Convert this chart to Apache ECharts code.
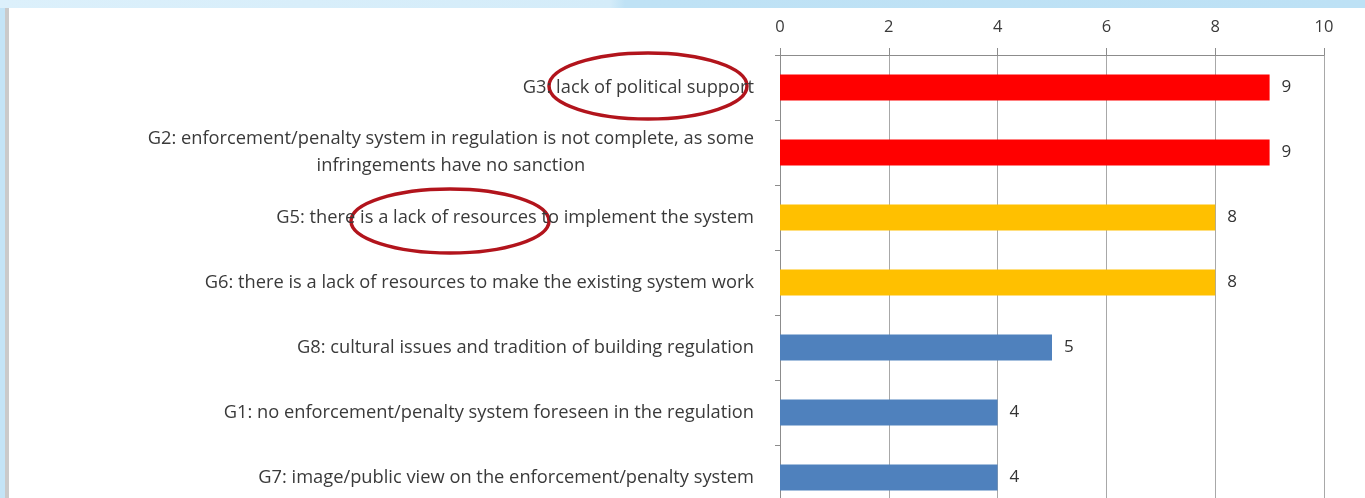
<!DOCTYPE html>
<html>
<head>
<meta charset="utf-8">
<script src="https://cdn.jsdelivr.net/npm/echarts@6/dist/echarts.min.js"></script>
<style>
  html, body { margin: 0; padding: 0; }
  body {
    width: 1365px; height: 498px; overflow: hidden; position: relative;
    background: #c4e4f6;
  }
  /* slide frame behind the chart */
  .band-top { position: absolute; left: 0; top: 0; width: 1365px; height: 8px;
    background: linear-gradient(to right, #dcf0fb 0, #d4ecf9 610px, #bfe2f5 625px, #bde1f5 100%); }
  .panel { position: absolute; left: 5px; top: 8px; right: 0; bottom: 0;
    background: #fff; border-left: 4px solid #cacaca; }
  #chart { position: absolute; left: 0; top: 0; width: 1365px; height: 498px; }
</style>
</head>
<body>
<div class="band-top"></div>
<div class="panel"></div>
<div id="chart"></div>
<script>
  // categories, top to bottom
  const categories = [
    'G3: lack of political support',
    'G2: enforcement/penalty system in regulation is not complete, as some\ninfringements have no sanction',
    'G5: there is a lack of resources to implement the system',
    'G6: there is a lack of resources to make the existing system work',
    'G8: cultural issues and tradition of building regulation',
    'G1: no enforcement/penalty system foreseen in the regulation',
    'G7: image/public view on the enforcement/penalty system'
  ];
  const counts = [9, 9, 8, 8, 5, 4, 4];
  const groups = ['high', 'high', 'mid', 'mid', 'low', 'low', 'low'];
  const xTicks = [0, 2, 4, 6, 8, 10];

  const groupColor = { high: '#ff0000', mid: '#ffc000', low: '#4f81bd' };
  const font = '"Open Sans", Lato, sans-serif';

  const chart = echarts.init(document.getElementById('chart'));

  const option = {
    backgroundColor: 'transparent',
    animation: false,
    grid: {
      left: 780,
      right: 41,
      top: 55,
      bottom: -12,
      containLabel: false,
      outerBoundsMode: 'none'
    },
    xAxis: {
      type: 'value',
      position: 'top',
      min: xTicks[0],
      max: xTicks[xTicks.length - 1],
      interval: xTicks[1] - xTicks[0],
      axisLine: { show: true, lineStyle: { color: '#8c8c8c', width: 1 } },
      axisTick: { show: true, length: 7, lineStyle: { color: '#8c8c8c' } },
      axisLabel: { margin: 19, color: '#3a3a3a', fontSize: 16.5, fontFamily: font },
      splitLine: { show: true, lineStyle: { color: '#a8a8a8', width: 1 } }
    },
    yAxis: {
      type: 'category',
      inverse: true,
      data: categories,
      axisLine: { show: true, lineStyle: { color: '#8c8c8c', width: 1 } },
      axisTick: { show: true, length: 5, lineStyle: { color: '#8c8c8c' } },
      axisLabel: {
        margin: 26,
        color: '#3a3a3a',
        fontSize: 18.3,
        fontFamily: font,
        // each line centred inside the right-aligned block
        formatter: (v) => v.split('\n').map((l) => '{t|' + l + '}').join('\n'),
        rich: {
          t: { align: 'center', lineHeight: 27, fontSize: 18.3, fontFamily: font, color: '#3a3a3a' }
        }
      }
    },
    series: [
      {
        type: 'bar',
        barWidth: '40%',
        data: counts.map((v, i) => ({ value: v, itemStyle: { color: groupColor[groups[i]] } })),
        label: {
          show: true,
          position: 'right',
          distance: 12,
          color: '#333',
          fontSize: 17,
          fontFamily: font
        }
      }
    ],
    // hand-drawn highlight rings from the slide
    graphic: [
      {
        type: 'ellipse', silent: true,
        shape: { cx: 648, cy: 86, rx: 99, ry: 33 },
        style: { fill: 'none', stroke: '#b2141c', lineWidth: 3.5 }
      },
      {
        type: 'ellipse', silent: true,
        shape: { cx: 450, cy: 221, rx: 99, ry: 32 },
        style: { fill: 'none', stroke: '#b2141c', lineWidth: 3.5 }
      }
    ]
  };

  chart.setOption(option);
</script>
</body>
</html>
